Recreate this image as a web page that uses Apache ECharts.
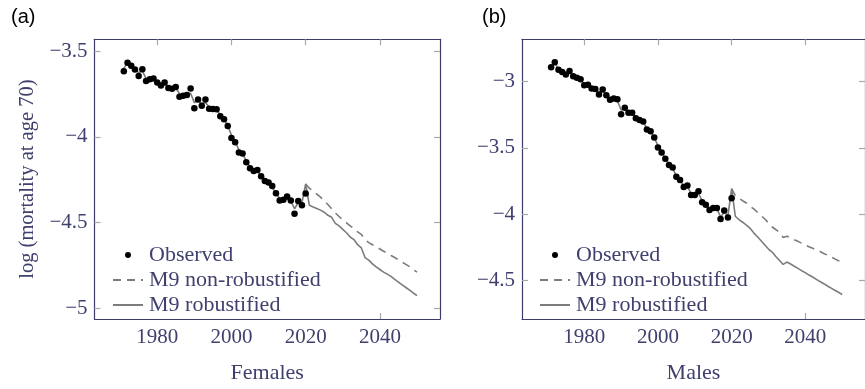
<!DOCTYPE html>
<html>
<head>
<meta charset="utf-8">
<script src="https://cdn.jsdelivr.net/npm/echarts@6/dist/echarts.min.js"></script>
<style>
html,body{margin:0;padding:0;background:#fff;}
#chart{width:865px;height:389px;}
</style>
</head>
<body>
<div id="chart"></div>
<script>
// ---------------- data ----------------
const obsYears = [1971,1972,1973,1974,1975,1976,1977,1978,1979,1980,
                  1981,1982,1983,1984,1985,1986,1987,1988,1989,1990,
                  1991,1992,1993,1994,1995,1996,1997,1998,1999,2000,
                  2001,2002,2003,2004,2005,2006,2007,2008,2009,2010,
                  2011,2012,2013,2014,2015,2016,2017,2018,2019,2020];
const fcYears = [2021,2022,2023,2024,2025,2026,2027,2028,2029,2030,
                 2031,2032,2033,2034,2035,2036,2037,2038,2039,2040,
                 2041,2042,2043,2044,2045,2046,2047,2048,2049,2050];

// Females
const femObserved = [-3.616,-3.567,-3.584,-3.607,-3.644,-3.605,-3.674,-3.663,-3.659,-3.683,
                     -3.700,-3.683,-3.715,-3.719,-3.708,-3.766,-3.760,-3.756,-3.717,-3.833,
                     -3.781,-3.818,-3.781,-3.835,-3.837,-3.839,-3.880,-3.897,-3.936,-4.006,
                     -4.031,-4.092,-4.097,-4.149,-4.183,-4.200,-4.193,-4.230,-4.258,-4.267,
                     -4.287,-4.329,-4.371,-4.367,-4.348,-4.371,-4.449,-4.374,-4.399,-4.331];
const femFitted = [-3.600,-3.568,-3.585,-3.605,-3.625,-3.615,-3.660,-3.660,-3.662,-3.680,
                   -3.695,-3.688,-3.710,-3.715,-3.712,-3.748,-3.752,-3.750,-3.745,-3.800,
                   -3.790,-3.805,-3.800,-3.825,-3.835,-3.845,-3.870,-3.895,-3.935,-3.990,
                   -4.030,-4.075,-4.100,-4.140,-4.175,-4.195,-4.200,-4.228,-4.255,-4.270,
                   -4.295,-4.330,-4.360,-4.365,-4.360,-4.375,-4.420,-4.385,-4.385,-4.275];
const femRobust = [-4.400,-4.410,-4.418,-4.428,-4.440,-4.458,-4.470,-4.505,-4.520,-4.540,
                   -4.560,-4.585,-4.600,-4.630,-4.648,-4.705,-4.720,-4.742,-4.760,-4.775,
                   -4.790,-4.802,-4.815,-4.832,-4.848,-4.865,-4.880,-4.895,-4.912,-4.928];
const femNonRobust = [-4.300,-4.315,-4.335,-4.352,-4.375,-4.395,-4.420,-4.445,-4.465,-4.485,
                      -4.502,-4.520,-4.535,-4.555,-4.570,-4.600,-4.618,-4.630,-4.642,-4.655,
                      -4.668,-4.680,-4.693,-4.705,-4.718,-4.732,-4.745,-4.758,-4.775,-4.790];

// Males
const maleObserved = [-2.892,-2.855,-2.911,-2.928,-2.947,-2.920,-2.960,-2.971,-2.983,-3.029,
                      -3.025,-3.053,-3.056,-3.097,-3.061,-3.104,-3.137,-3.128,-3.133,-3.246,
                      -3.198,-3.236,-3.236,-3.277,-3.289,-3.301,-3.361,-3.374,-3.422,-3.497,
                      -3.534,-3.582,-3.629,-3.648,-3.718,-3.742,-3.795,-3.783,-3.855,-3.855,
                      -3.827,-3.910,-3.928,-3.968,-3.952,-3.952,-4.036,-3.971,-4.024,-3.879];
const maleFitted = [-2.885,-2.860,-2.905,-2.925,-2.940,-2.925,-2.958,-2.970,-2.985,-3.020,
                    -3.028,-3.050,-3.058,-3.085,-3.070,-3.100,-3.130,-3.130,-3.145,-3.215,
                    -3.205,-3.232,-3.240,-3.272,-3.288,-3.305,-3.355,-3.378,-3.420,-3.485,
                    -3.530,-3.578,-3.620,-3.655,-3.710,-3.745,-3.785,-3.790,-3.845,-3.852,
                    -3.840,-3.900,-3.925,-3.960,-3.955,-3.960,-4.020,-3.985,-4.010,-3.807];
const maleRobust = [-4.015,-4.040,-4.060,-4.082,-4.105,-4.140,-4.170,-4.200,-4.232,-4.262,
                    -4.285,-4.318,-4.348,-4.378,-4.360,-4.375,-4.392,-4.408,-4.425,-4.440,
                    -4.458,-4.473,-4.490,-4.507,-4.523,-4.540,-4.556,-4.572,-4.588,-4.604];
const maleNonRobust = [-3.860,-3.880,-3.898,-3.915,-3.940,-3.960,-3.985,-4.010,-4.036,-4.065,
                       -4.096,-4.115,-4.137,-4.175,-4.165,-4.178,-4.192,-4.204,-4.218,-4.232,
                       -4.245,-4.256,-4.268,-4.281,-4.295,-4.308,-4.322,-4.336,-4.350,-4.362];

const xTicks = [1980, 2000, 2020, 2040];
const femYTicks = [-5, -4.5, -4, -3.5];
const maleYTicks = [-4.5, -4, -3.5, -3];
const legendNames = ['Observed', 'M9 non-robustified', 'M9 robustified'];
const panelLabels = ['(a)', '(b)'];
const xNames = ['Females', 'Males'];
const yName = 'log (mortality at age 70)';

// ---------------- styles ----------------
const SERIF = "'Liberation Serif','DejaVu Serif',serif";
const NAVY = '#3c3c6c';
const TEXT = '#40406e';
const TICK = '#a8a8a8';
const GRAY = '#7c7c7c';

function fmtY(v){ return (v < 0 ? '\u2212' : '') + Math.abs(v); }
function fmtX(v){ return String(v); }

function xAx(grid, pos, show, name){
  return {
    type:'value', gridIndex:grid, position:pos, min:1963.1, max:2056.2,
    splitLine:{show:false},
    axisLine:{show:true, onZero:false, lineStyle:{color:NAVY, width:1.2}},
    axisTick:{show:true, inside:true, length:6, customValues:xTicks, lineStyle:{color:TICK, width:1.2}},
    axisLabel:{show:show, customValues:xTicks, margin:8, color:TEXT, fontFamily:SERIF, fontSize:21, formatter:fmtX},
    name: name || '', nameLocation:'middle', nameGap:43,
    nameTextStyle:{color:TEXT, fontFamily:SERIF, fontSize:22}
  };
}
function yAx(grid, pos, show, min, max, ticks, name){
  return {
    type:'value', gridIndex:grid, position:pos, min:min, max:max,
    splitLine:{show:false},
    axisLine:{show:true, onZero:false, lineStyle:{color:NAVY, width:1.2}},
    axisTick:{show:true, inside:true, length:6, customValues:ticks, lineStyle:{color:TICK, width:1.2}},
    axisLabel:{show:show, customValues:ticks, margin:7, color:TEXT, fontFamily:SERIF, fontSize:21, formatter:fmtY},
    name: name || '', nameLocation:'middle', nameGap:56, nameRotate:90,
    nameTextStyle:{color:TEXT, fontFamily:SERIF, fontSize:20.5}
  };
}
function pairs(xs, ys){ return xs.map((x,i)=>[x, ys[i]]); }

function panelSeries(idx, obs, fit, rob, nonrob){
  return [
    {name:legendNames[0], type:'scatter', xAxisIndex:idx*2, yAxisIndex:idx*2,
     data:pairs(obsYears, obs), symbol:'circle', symbolSize:6.5,
     itemStyle:{color:'#000', opacity:1}, z:4},
    {name:legendNames[1], type:'line', xAxisIndex:idx*2, yAxisIndex:idx*2,
     data:[[obsYears[obsYears.length-1], fit[fit.length-1]]].concat(pairs(fcYears, nonrob)),
     symbol:'none', lineStyle:{color:GRAY, width:1.6, type:[8,6]}, itemStyle:{color:GRAY}, z:3},
    {name:legendNames[2], type:'line', xAxisIndex:idx*2, yAxisIndex:idx*2,
     data:pairs(obsYears, fit).concat(pairs(fcYears, rob)),
     symbol:'none', lineStyle:{color:GRAY, width:1.6}, itemStyle:{color:GRAY}, z:3}
  ];
}
function legend(left){
  return {
    orient:'vertical', left:left, top:241,
    data:[
      {name:legendNames[0], itemStyle:{opacity:1}},
      {name:legendNames[1], itemStyle:{opacity:0}},
      {name:legendNames[2], itemStyle:{opacity:0}}
    ],
    itemWidth:30, itemHeight:6, itemGap:3,
    backgroundColor:'#fff', padding:[3,5,3,3],
    textStyle:{color:TEXT, fontFamily:SERIF, fontSize:22, padding:[0,0,0,1]}
  };
}

const chart = echarts.init(document.getElementById('chart'), null, {renderer:'canvas'});
chart.setOption({
  backgroundColor:'#fff',
  animation:false,
  title:[
    {text:panelLabels[0], left:6, top:2, textStyle:{fontFamily:"'Liberation Sans',Arial,sans-serif", fontWeight:'normal', fontSize:20, color:'#000'}},
    {text:panelLabels[1], left:477, top:2, textStyle:{fontFamily:"'Liberation Sans',Arial,sans-serif", fontWeight:'normal', fontSize:20, color:'#000'}}
  ],
  grid:[
    {left:94.5, top:39.3, width:345.5, height:290.7},
    {left:522, top:39.3, width:345.5, height:290.7}
  ],
  xAxis:[
    xAx(0,'bottom',true,xNames[0]), xAx(0,'top',false),
    xAx(1,'bottom',true,xNames[1]), xAx(1,'top',false)
  ],
  yAxis:[
    yAx(0,'left',true,-5.064,-3.430,femYTicks,yName), yAx(0,'right',false,-5.064,-3.430,femYTicks),
    yAx(1,'left',true,-4.789,-2.682,maleYTicks), yAx(1,'right',false,-4.789,-2.682,maleYTicks)
  ],
  legend:[legend(109), legend(536)],
  series: panelSeries(0, femObserved, femFitted, femRobust, femNonRobust)
          .concat(panelSeries(1, maleObserved, maleFitted, maleRobust, maleNonRobust))
});
</script>
</body>
</html>
